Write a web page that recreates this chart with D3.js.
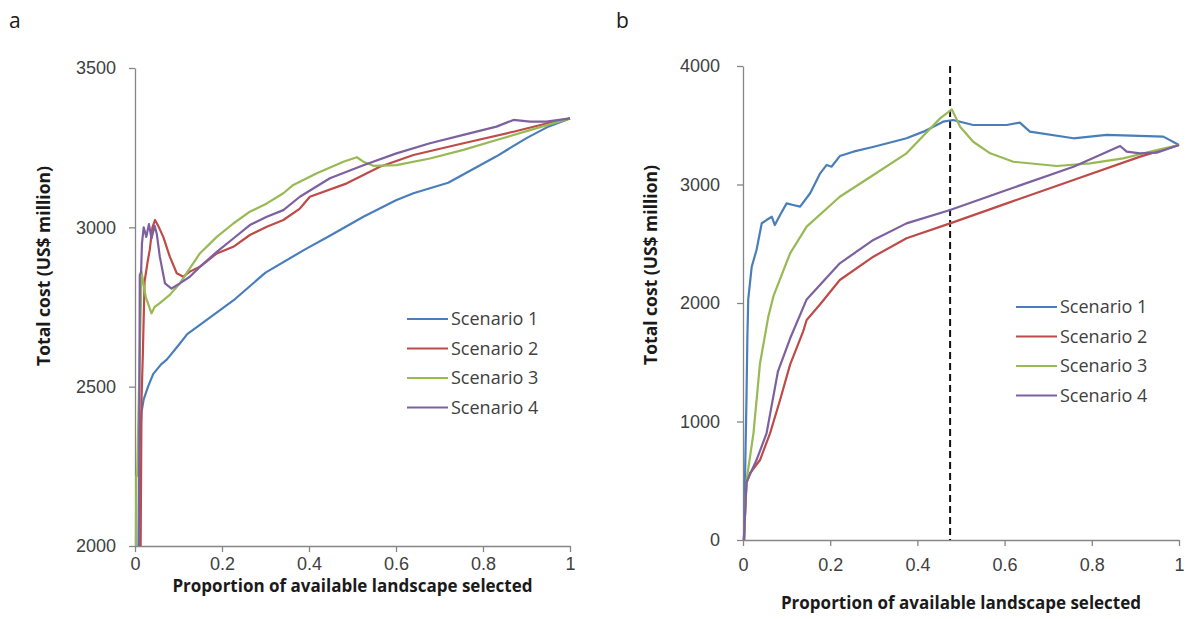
<!DOCTYPE html>
<html>
<head>
<meta charset="utf-8">
<script src="https://cdn.jsdelivr.net/npm/d3@7"></script>
<style>
  body { margin: 0; background: #fff; }
  svg { font-family: "Open Sans", sans-serif; }
  .tick text { fill: #404040; font-size: 18px; }
  .axis path, .axis line { stroke: #868686; stroke-width: 1.3; }
</style>
</head>
<body>
<div id="chart"></div>
<script>
// x ticks shared by both panels
const xTicks = [0, 0.2, 0.4, 0.6, 0.8, 1];
const yTicksA = [2000, 2500, 3000, 3500];
const yTicksB = [0, 1000, 2000, 3000, 4000];
const scenarios = ["Scenario 1", "Scenario 2", "Scenario 3", "Scenario 4"];
const colors = ["#4a7ebb", "#be4b48", "#98b954", "#7d60a0"];
const xTitle = "Proportion of available landscape selected";
const yTitle = "Total cost (US$ million)";

// panel a: [proportion, cost]
const aScen1 = [[0.008,2000],[0.01,2300],[0.015,2420],[0.02,2460],[0.03,2500],[0.042,2540],[0.06,2570],
  [0.073,2585],[0.1,2630],[0.12,2665],[0.15,2695],[0.19,2735],[0.23,2775],[0.3,2858],[0.39,2930],
  [0.45,2975],[0.525,3033],[0.6,3085],[0.64,3107],[0.72,3140],[0.83,3222],[0.9,3280],[0.95,3316],[1,3342]];
const aScen2 = [[0.013,2000],[0.015,2460],[0.018,2600],[0.022,2830],[0.03,2900],[0.034,2930],[0.04,3000],
  [0.046,3023],[0.055,3000],[0.065,2970],[0.08,2908],[0.096,2856],[0.111,2845],[0.126,2861],[0.149,2876],
  [0.188,2918],[0.226,2939],[0.264,2976],[0.303,3002],[0.341,3023],[0.379,3059],[0.402,3096],[0.487,3138],
  [0.563,3190],[0.64,3227],[0.755,3264],[0.87,3300],[0.946,3326],[1,3342]];
const aScen3 = [[0.002,2000],[0.003,2220],[0.005,2220],[0.015,2860],[0.025,2780],[0.038,2730],[0.045,2750],
  [0.057,2762],[0.08,2788],[0.103,2824],[0.126,2871],[0.149,2918],[0.188,2970],[0.226,3012],[0.264,3049],
  [0.303,3075],[0.341,3107],[0.364,3133],[0.418,3170],[0.479,3206],[0.51,3220],[0.525,3206],[0.548,3193],
  [0.601,3195],[0.678,3216],[0.755,3243],[0.831,3274],[0.908,3305],[1,3342]];
const aScen4 = [[0.009,2000],[0.011,2850],[0.014,2860],[0.016,2950],[0.02,3000],[0.026,2970],[0.032,3010],
  [0.038,2965],[0.045,3005],[0.05,2980],[0.057,2908],[0.069,2824],[0.084,2808],[0.103,2824],[0.126,2845],
  [0.149,2876],[0.188,2923],[0.226,2965],[0.264,3007],[0.303,3033],[0.341,3054],[0.379,3096],[0.448,3154],
  [0.525,3195],[0.601,3232],[0.678,3264],[0.755,3290],[0.831,3316],[0.87,3337],[0.908,3332],[0.946,3332],[1,3342]];

// panel b
const bScen1 = [[0.003,0],[0.005,600],[0.008,1200],[0.01,1700],[0.012,2030],[0.02,2306],[0.031,2447],
  [0.043,2673],[0.054,2700],[0.066,2728],[0.073,2658],[0.085,2743],[0.1,2841],[0.115,2827],[0.131,2813],
  [0.154,2926],[0.177,3094],[0.192,3165],[0.203,3150],[0.222,3240],[0.253,3277],[0.3,3319],[0.36,3376],
  [0.375,3390],[0.414,3446],[0.459,3530],[0.482,3544],[0.528,3502],[0.605,3502],[0.635,3522],[0.658,3446],
  [0.758,3390],[0.834,3418],[0.964,3404],[1,3333]];
const bScen2 = [[0.002,0],[0.008,480],[0.016,563],[0.039,675],[0.062,900],[0.085,1181],[0.108,1480],
  [0.138,1760],[0.146,1857],[0.177,1990],[0.222,2194],[0.299,2391],[0.375,2546],[0.475,2672],[0.605,2841],
  [0.758,3038],[0.911,3235],[1,3333]];
const bScen3 = [[0.002,0],[0.008,500],[0.024,900],[0.039,1490],[0.058,1884],[0.07,2060],[0.108,2419],
  [0.146,2644],[0.222,2897],[0.299,3080],[0.375,3263],[0.452,3558],[0.479,3634],[0.498,3488],[0.528,3361],
  [0.567,3263],[0.62,3192],[0.72,3156],[0.796,3179],[0.872,3221],[0.949,3291],[1,3333]];
const bScen4 = [[0.002,0],[0.008,490],[0.031,675],[0.054,900],[0.08,1420],[0.108,1700],[0.146,2030],
  [0.222,2335],[0.299,2532],[0.375,2672],[0.475,2785],[0.605,2954],[0.758,3150],[0.865,3325],[0.88,3277],
  [0.911,3263],[0.949,3269],[1,3333]];
const dashAt = 0.475;

const svg = d3.select("#chart").append("svg").attr("width", 1188).attr("height", 619);

function drawPanel(opt) {
  const x = d3.scaleLinear().domain([0, 1]).range([opt.left, opt.right]);
  const y = d3.scaleLinear().domain(opt.yDomain).range([opt.bottom, opt.top]);
  const g = svg.append("g");

  g.append("g").attr("class", "axis").attr("transform", `translate(0,${opt.bottom})`)
    .call(d3.axisBottom(x).tickValues(xTicks).tickSize(6).tickPadding(opt.xPad).tickSizeOuter(0)
      .tickFormat(d => d3.format("")(d)));
  g.append("g").attr("class", "axis").attr("transform", `translate(${opt.left},0)`)
    .call(d3.axisLeft(y).tickValues(opt.yTicks).tickSize(6).tickPadding(opt.yPad).tickSizeOuter(0)
      .tickFormat(d3.format("d")));

  if (opt.dash != null) {
    g.append("line").attr("x1", x(opt.dash)).attr("x2", x(opt.dash))
      .attr("y1", opt.top).attr("y2", opt.bottom)
      .attr("stroke", "#111").attr("stroke-width", 2).attr("stroke-dasharray", "7,4");
  }

  const line = d3.line().x(d => x(d[0])).y(d => y(d[1]));
  opt.series.forEach((s, i) => {
    g.append("path").datum(s).attr("d", line).attr("fill", "none")
      .attr("stroke", colors[i]).attr("stroke-width", 2.2).attr("stroke-linejoin", "round");
  });

  // legend
  scenarios.forEach((name, i) => {
    const ly = opt.legY + i * 29.5;
    g.append("line").attr("x1", opt.legX).attr("x2", opt.legX + 41).attr("y1", ly).attr("y2", ly)
      .attr("stroke", colors[i]).attr("stroke-width", 2.2);
    g.append("text").attr("x", opt.legX + 44).attr("y", ly).attr("dy", "0.35em")
      .attr("fill", "#404040").attr("font-size", 18).text(name);
  });

  g.append("text").attr("x", (opt.left + opt.right) / 2).attr("y", opt.xTitleY)
    .attr("text-anchor", "middle").attr("font-weight", "bold").attr("font-size", 17)
    .attr("fill", "#1a1a1a").text(xTitle);
  g.append("text").attr("transform", `translate(${opt.yTitleX},${opt.yTitleMid}) rotate(-90)`)
    .attr("text-anchor", "middle").attr("font-weight", "bold").attr("font-size", 17.5)
    .attr("fill", "#1a1a1a").text(yTitle);
  g.append("text").attr("x", opt.tagX).attr("y", 28).attr("font-size", 21)
    .attr("fill", "#1a1a1a").text(opt.tag);
}

drawPanel({ left: 135, right: 570, top: 68, bottom: 546, yDomain: [2000, 3500], yTicks: yTicksA,
  xPad: 5, yPad: 13, series: [aScen1, aScen2, aScen3, aScen4], legX: 407, legY: 319,
  xTitleY: 592, yTitleX: 50, yTitleMid: 266, tag: "a", tagX: 9, dash: null });
drawPanel({ left: 743, right: 1179, top: 66, bottom: 540, yDomain: [0, 4000], yTicks: yTicksB,
  xPad: 12, yPad: 17, series: [bScen1, bScen2, bScen3, bScen4], legX: 1016, legY: 307,
  xTitleY: 609, yTitleX: 657, yTitleMid: 265, tag: "b", tagX: 616, dash: dashAt });
</script>
</body>
</html>
